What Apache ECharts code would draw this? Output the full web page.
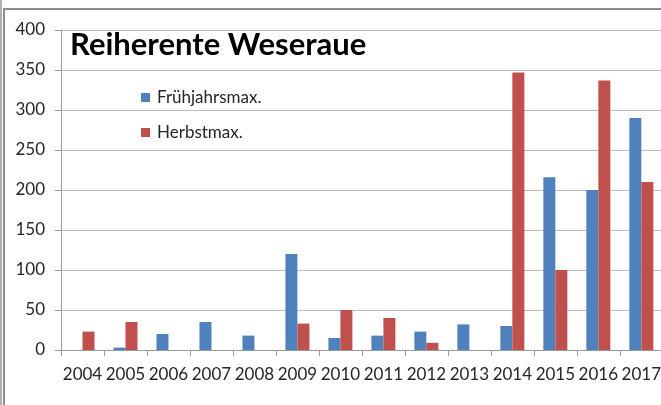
<!DOCTYPE html>
<html>
<head>
<meta charset="utf-8">
<script src="https://cdn.jsdelivr.net/npm/echarts@6/dist/echarts.min.js"></script>
<style>
  html, body { margin: 0; padding: 0; background: #fff; overflow: hidden; }
  #chart { width: 664px; height: 405px; }
</style>
</head>
<body>
<div id="chart"></div>
<script>
// Reiherente Weseraue – Frühjahrs- und Herbstmaxima
const years = ["2004", "2005", "2006", "2007", "2008", "2009", "2010", "2011", "2012", "2013", "2014", "2015", "2016", "2017"];
const fruehjahr = [0, 3, 20, 35, 18, 120, 15, 18, 23, 32, 30, 216, 200, 290];
const herbst = [23, 35, 0, 0, 0, 33, 50, 40, 9, 0, 347, 100, 337, 210];

const font = "Lato";
const txt = "#262626";

const chart = echarts.init(document.getElementById("chart"));

const option = {
  backgroundColor: "#fff",
  animation: false,
  title: {
    text: "Reiherente Weseraue",
    left: 70,
    top: 29,
    padding: 0,
    textStyle: {
      fontFamily: font,
      fontSize: 31,
      fontWeight: "bold",
      color: "#000",
    },
  },
  legend: {
    orient: "vertical",
    left: 141,
    top: 89,
    padding: 0,
    itemWidth: 9,
    itemHeight: 9,
    itemGap: 18,
    icon: "rect",
    textStyle: { fontFamily: font, fontSize: 17, color: txt, padding: [0, 0, 0, 2] },
    data: ["Frühjahrsmax.", "Herbstmax."],
  },
  grid: {
    left: 61,
    right: 0,
    top: 30,
    bottom: 55,
  },
  xAxis: {
    type: "category",
    data: years,
    axisLine: { lineStyle: { color: "#9a9a9a", width: 1 } },
    axisTick: { show: true, length: 6, lineStyle: { color: "#9a9a9a" } },
    axisLabel: { interval: 0, fontFamily: font, fontSize: 17, color: txt, margin: 16 },
  },
  yAxis: {
    type: "value",
    min: 0,
    max: 400,
    interval: 50,
    axisLine: { show: true, lineStyle: { color: "#9a9a9a", width: 1 } },
    axisTick: { show: true, length: 6, lineStyle: { color: "#9a9a9a" } },
    axisLabel: { fontFamily: font, fontSize: 17, color: txt, margin: 16 },
    splitLine: { lineStyle: { color: "#bdbdbd", width: 1 } },
  },
  series: [
    {
      name: "Frühjahrsmax.",
      type: "bar",
      data: fruehjahr,
      barWidth: 12,
      barGap: "0%",
      itemStyle: { color: "#4F81BD" },
    },
    {
      name: "Herbstmax.",
      type: "bar",
      data: herbst,
      barWidth: 12,
      itemStyle: { color: "#C0504D" },
    },
  ],
  graphic: [
    {
      type: "rect",
      shape: { x: 4, y: 9, width: 700, height: 420 },
      style: { fill: "none", stroke: "#8c8c8c", lineWidth: 2 },
      silent: true,
    },
    {
      type: "line",
      shape: { x1: 1, y1: 0, x2: 1, y2: 405 },
      style: { stroke: "#b0b0b0", lineWidth: 2 },
      silent: true,
    },
  ],
};

chart.setOption(option);
</script>
</body>
</html>
